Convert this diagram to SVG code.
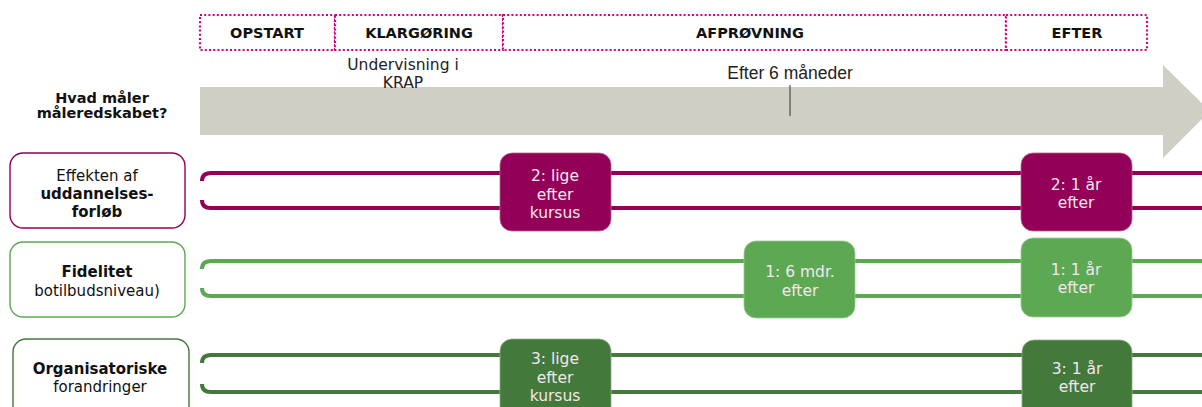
<svg xmlns="http://www.w3.org/2000/svg" width="1202" height="407" viewBox="0 0 1202 407">
  <style>
    .phase { fill: #ffffff; stroke: #D4007F; stroke-width: 2.2; stroke-dasharray: 2 2.2; }
    .phase-t { font-family: "DejaVu Sans", Verdana, sans-serif; font-size: 14.5px; font-weight: bold; fill: #111; text-anchor: middle; }
    .note { font-family: "DejaVu Sans", Verdana, sans-serif; font-size: 15.5px; fill: #222; text-anchor: middle; }
    .label { fill: #ffffff; stroke-width: 1.4; }
    .label-t { font-family: "DejaVu Sans", Verdana, sans-serif; font-size: 15px; fill: #111; text-anchor: middle; }
    .b { font-weight: bold; }
    .lane { fill: none; stroke-width: 4; }
    .step-t { font-family: "DejaVu Sans", Verdana, sans-serif; font-size: 15.5px; fill: #F3E6EE; text-anchor: middle; }
    .magenta { stroke: #930057; }
    .green { stroke: #5DA853; }
    .dgreen { stroke: #44793C; }
  </style>

  <!-- phase headers -->
  <g id="phases">
    <rect class="phase" x="200" y="15" width="135" height="35"/>
    <rect class="phase" x="335" y="15" width="168" height="35"/>
    <rect class="phase" x="503" y="15" width="503" height="35"/>
    <rect class="phase" x="1006" y="15" width="141" height="35"/>
    <text class="phase-t" x="267" y="38">OPSTART</text>
    <text class="phase-t" x="419" y="38">KLARGØRING</text>
    <text class="phase-t" x="750" y="38">AFPRØVNING</text>
    <text class="phase-t" x="1077" y="38">EFTER</text>
  </g>

  <!-- timeline arrow -->
  <g id="timeline">
    <path d="M200 87 H1163 V65 L1210 111 L1163 158 V135 H200 Z" fill="#CFCFC6"/>
    <text class="note" x="403" y="70">Undervisning i</text>
    <text class="note" x="403" y="88">KRAP</text>
    <text x="790" y="79" font-family="Liberation Sans, Arial, sans-serif" font-size="17.5" fill="#222" text-anchor="middle">Efter 6 måneder</text>
    <line x1="790" y1="85" x2="790" y2="116" stroke="#333" stroke-width="1"/>
  </g>

  <g id="question">
    <text class="phase-t" x="102" y="103">Hvad måler</text>
    <text class="phase-t" x="102" y="118">måleredskabet?</text>
  </g>

  <!-- lane connectors -->
  <g id="connectors">
    <path class="lane magenta" d="M1202 173 H211 Q202 173 202 181"/>
    <path class="lane magenta" d="M202 200 Q202 208 211 208 H1202"/>
    <path class="lane green" d="M1202 261 H211 Q202 261 202 269"/>
    <path class="lane green" d="M202 288 Q202 296 211 296 H1202"/>
    <path class="lane dgreen" d="M1202 355 H211 Q202 355 202 363"/>
    <path class="lane dgreen" d="M202 384 Q202 392 211 392 H1202"/>
  </g>

  <!-- row labels -->
  <g id="label-effekt">
    <rect class="label magenta" x="10" y="153" width="175" height="75" rx="13"/>
    <text class="label-t" x="97" y="181">Effekten af</text>
    <text class="label-t b" x="97" y="199">uddannelses-</text>
    <text class="label-t b" x="97" y="217">forløb</text>
  </g>
  <g id="label-fidelitet">
    <rect class="label green" x="10" y="242" width="175" height="75" rx="13"/>
    <text class="label-t b" x="97" y="277">Fidelitet</text>
    <text class="label-t" x="97" y="296">botilbudsniveau)</text>
  </g>
  <g id="label-organisation">
    <rect class="label dgreen" x="13" y="339" width="176" height="80" rx="13"/>
    <text class="label-t b" x="100" y="374">Organisatoriske</text>
    <text class="label-t" x="100" y="392">forandringer</text>
  </g>

  <!-- measurement points -->
  <g id="step-2a">
    <rect x="500" y="153" width="111" height="78" rx="12" fill="#930057" stroke="#B5648F" stroke-width="0.8"/>
    <text class="step-t" x="555" y="181">2: lige</text>
    <text class="step-t" x="555" y="200">efter</text>
    <text class="step-t" x="555" y="218">kursus</text>
  </g>
  <g id="step-2b">
    <rect x="1021" y="153" width="111" height="78" rx="12" fill="#930057" stroke="#B5648F" stroke-width="0.8"/>
    <text class="step-t" x="1076" y="190">2: 1 år</text>
    <text class="step-t" x="1076" y="208">efter</text>
  </g>
  <g id="step-1a">
    <rect x="744" y="241" width="111" height="77" rx="12" fill="#5DA853" stroke="#9CCB96" stroke-width="0.8"/>
    <text class="step-t" x="800" y="277">1: 6 mdr.</text>
    <text class="step-t" x="800" y="296">efter</text>
  </g>
  <g id="step-1b">
    <rect x="1021" y="238" width="111" height="79" rx="12" fill="#5DA853" stroke="#9CCB96" stroke-width="0.8"/>
    <text class="step-t" x="1076" y="275">1: 1 år</text>
    <text class="step-t" x="1076" y="293">efter</text>
  </g>
  <g id="step-3a">
    <rect x="500" y="339" width="111" height="80" rx="12" fill="#44793C" stroke="#8AAE84" stroke-width="0.8"/>
    <text class="step-t" x="555" y="364">3: lige</text>
    <text class="step-t" x="555" y="383">efter</text>
    <text class="step-t" x="555" y="401">kursus</text>
  </g>
  <g id="step-3b">
    <rect x="1022" y="340" width="110" height="79" rx="12" fill="#44793C" stroke="#8AAE84" stroke-width="0.8"/>
    <text class="step-t" x="1077" y="374">3: 1 år</text>
    <text class="step-t" x="1077" y="392">efter</text>
  </g>
</svg>
